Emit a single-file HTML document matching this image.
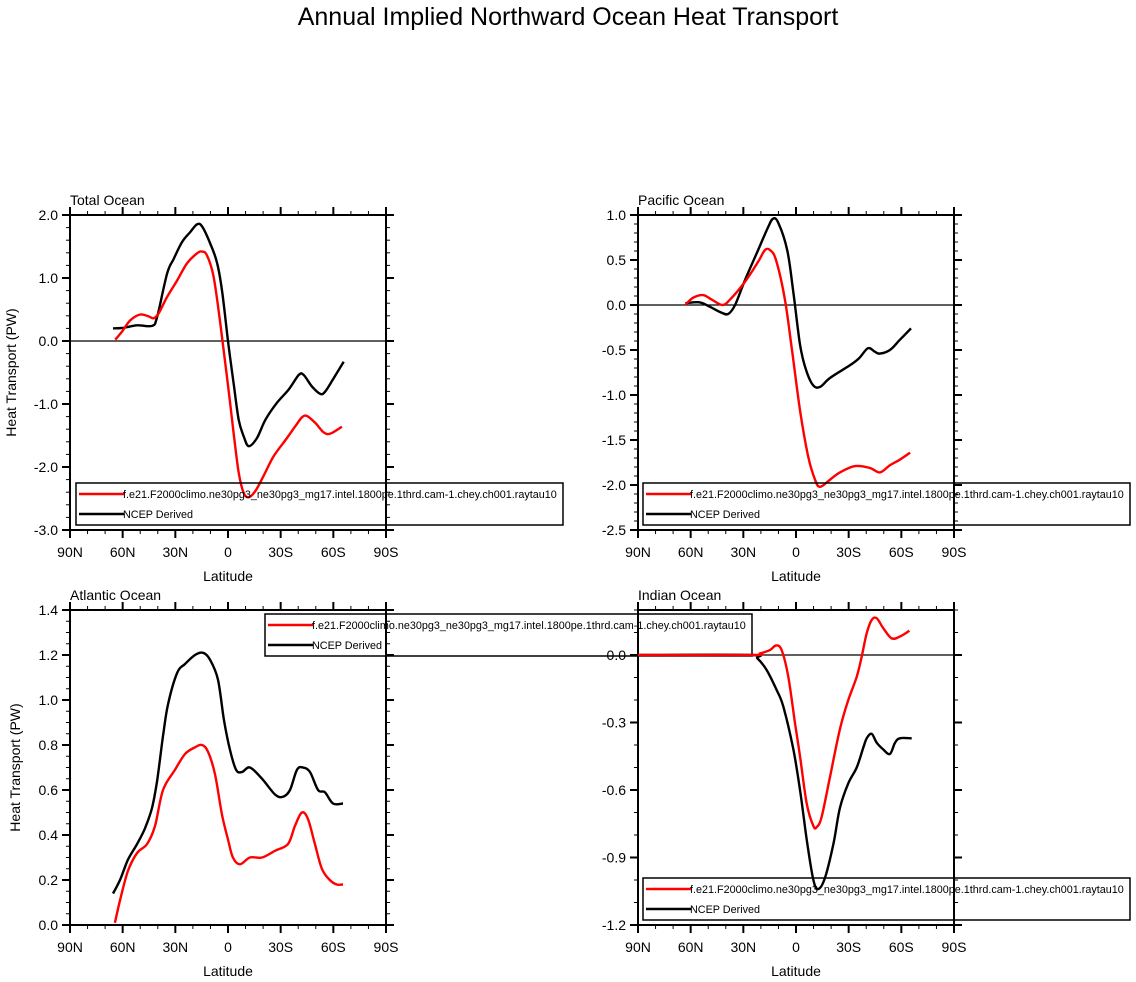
<!DOCTYPE html>
<html><head><meta charset="utf-8"><style>
body{margin:0;background:#fff;}
svg{display:block;font-family:"Liberation Sans",Arial,sans-serif;}
</style></head><body>
<svg id="chart" width="1136" height="982" viewBox="0 0 1136 982" xmlns="http://www.w3.org/2000/svg">
<text x="568" y="25" text-anchor="middle" font-size="25">Annual Implied Northward Ocean Heat Transport</text>
</svg>
<script>
// Latitude tick labels
const xTickLabels = ["90N","60N","30N","0","30S","60S","90S"];
const xTickValues = [90,60,30,0,-30,-60,-90];
const legendLabels = ["f.e21.F2000climo.ne30pg3_ne30pg3_mg17.intel.1800pe.1thrd.cam-1.chey.ch001.raytau10","NCEP Derived"];

// Total Ocean
const totalModelLat = [64.2,60.4,55.6,50,45.2,42.3,39.5,34.7,29,23.4,17.7,14.8,12,8.2,4.4,0.6,-3.2,-6.1,-8.9,-11.8,-15.6,-20.3,-26,-33.6,-38.4,-42.2,-45,-49.7,-54.5,-58.3,-64.9];
const totalModelVal = [0.02,0.15,0.33,0.42,0.39,0.36,0.44,0.7,0.96,1.23,1.39,1.42,1.36,1.02,0.28,-0.56,-1.46,-2.09,-2.41,-2.48,-2.38,-2.14,-1.83,-1.54,-1.35,-1.21,-1.19,-1.3,-1.45,-1.47,-1.36];
const totalObsLat = [65.5,59.4,51.8,43.3,40.4,34.7,31,26.2,21.5,17.7,14.8,10,6.3,3.4,0,-3.2,-6.1,-8.9,-11.8,-16.5,-21.3,-27.9,-34.6,-40.3,-43.1,-47.8,-52.6,-55.4,-60.2,-65.9];
const totalObsVal = [0.2,0.21,0.25,0.24,0.38,1.07,1.3,1.57,1.73,1.85,1.82,1.54,1.25,0.8,0,-0.67,-1.25,-1.51,-1.67,-1.54,-1.25,-0.98,-0.77,-0.54,-0.54,-0.72,-0.84,-0.8,-0.59,-0.33];
const totalYTicks = [2,1,0,-1,-2,-3];
const totalYLabels = ["2.0","1.0","0.0","-1.0","-2.0","-3.0"];

// Pacific Ocean
const pacModelLat = [63,58.7,53,48,42,37.6,29,21.6,17.7,14.8,11.4,6.3,2.3,-2.3,-6.8,-10.8,-13.7,-19.4,-25,-33.6,-42,-47.8,-53.5,-59,-65];
const pacModelVal = [0,0.08,0.11,0.06,0,0.06,0.26,0.48,0.61,0.61,0.5,0.06,-0.5,-1.17,-1.67,-1.94,-2.02,-1.94,-1.86,-1.79,-1.81,-1.86,-1.78,-1.72,-1.64];
const pacObsLat = [63,55,49,43,38.7,34.7,29,21.6,16,13,10,5,1.7,-2.3,-5.7,-9.7,-13.7,-19.4,-30.7,-36,-41,-45,-47.8,-53.5,-59,-65.5];
const pacObsVal = [0.02,0.03,-0.02,-0.08,-0.1,0,0.28,0.61,0.86,0.96,0.91,0.61,0.17,-0.44,-0.72,-0.89,-0.91,-0.81,-0.67,-0.59,-0.48,-0.52,-0.54,-0.5,-0.39,-0.26];
const pacYTicks = [1,0.5,0,-0.5,-1,-1.5,-2,-2.5];
const pacYLabels = ["1.0","0.5","0.0","-0.5","-1.0","-1.5","-2.0","-2.5"];

// Atlantic Ocean
const atlModelLat = [64.4,61.5,57,51.8,46.1,41.6,37,30.2,24.5,18.8,14.8,11.4,7.4,3.4,0,-2.8,-6.8,-12.5,-19.4,-26.8,-34.2,-38.1,-42.1,-45.6,-49.5,-53.5,-58,-62,-65.5];
const atlModelVal = [0.01,0.11,0.24,0.32,0.36,0.44,0.6,0.69,0.76,0.79,0.8,0.77,0.67,0.49,0.38,0.3,0.27,0.3,0.3,0.33,0.36,0.44,0.5,0.47,0.36,0.25,0.2,0.18,0.18];
const atlObsLat = [65.5,61.5,57,51.8,47.3,43.3,40.4,37,34.2,29,24.5,18.8,14.2,10.3,5.7,2.3,-1.1,-4.6,-8,-12.5,-19.4,-26.8,-31.3,-35.3,-39.3,-42.7,-46.7,-51.3,-55.2,-59.8,-65.5];
const atlObsVal = [0.14,0.2,0.29,0.36,0.43,0.52,0.64,0.84,0.98,1.12,1.16,1.2,1.21,1.18,1.09,0.91,0.78,0.69,0.68,0.7,0.65,0.58,0.57,0.6,0.69,0.7,0.68,0.6,0.59,0.54,0.54];
const atlYTicks = [1.4,1.2,1,0.8,0.6,0.4,0.2,0];
const atlYLabels = ["1.4","1.2","1.0","0.8","0.6","0.4","0.2","0.0"];

// Indian Ocean
const indModelLat = [90,25.3,20.5,14.8,11.4,8.2,4.4,0.6,-2.3,-6.1,-9.9,-11.8,-14.6,-19.4,-25,-29.8,-34.6,-37.4,-40.3,-43.1,-46,-49.7,-54.5,-59.2,-64.6];
const indModelVal = [0,0,0.007,0.022,0.042,0.022,-0.097,-0.3,-0.45,-0.66,-0.76,-0.765,-0.72,-0.54,-0.33,-0.2,-0.097,-0.007,0.097,0.156,0.163,0.119,0.074,0.082,0.108];
const indObsLat = [90,26,22,16.7,11,7.2,1.5,-2.3,-6.1,-9.9,-12.7,-16.5,-21.3,-25,-29.8,-34.6,-38.4,-40.3,-43.1,-46,-49.7,-53.5,-56.4,-59.2,-65.9];
const indObsVal = [0,0,-0.015,-0.067,-0.156,-0.23,-0.42,-0.6,-0.82,-1.0,-1.04,-0.99,-0.84,-0.68,-0.57,-0.5,-0.41,-0.37,-0.35,-0.39,-0.42,-0.44,-0.39,-0.37,-0.37];
const indYTicks = [0,-0.3,-0.6,-0.9,-1.2];
const indYLabels = ["0.0","-0.3","-0.6","-0.9","-1.2"];

const NS = "http://www.w3.org/2000/svg";
const svg = document.getElementById("chart");
function mk(tag, attrs, parent){
  const e = document.createElementNS(NS, tag);
  for (const k in attrs) e.setAttribute(k, attrs[k]);
  (parent||svg).appendChild(e);
  return e;
}
function smoothPath(pts){
  let d = "M" + pts[0][0].toFixed(1) + "," + pts[0][1].toFixed(1);
  for (let i=0;i<pts.length-1;i++){
    const p0 = pts[i-1]||pts[i], p1 = pts[i], p2 = pts[i+1], p3 = pts[i+2]||p2;
    const c1x = p1[0]+(p2[0]-p0[0])/6, c1y = p1[1]+(p2[1]-p0[1])/6;
    const c2x = p2[0]-(p3[0]-p1[0])/6, c2y = p2[1]-(p3[1]-p1[1])/6;
    d += " C"+c1x.toFixed(1)+","+c1y.toFixed(1)+" "+c2x.toFixed(1)+","+c2y.toFixed(1)+" "+p2[0].toFixed(1)+","+p2[1].toFixed(1);
  }
  return d;
}

function panel(cfg){
  const g = mk("g", {});
  
  
  const L=cfg.x0, R=cfg.x1, T=cfg.y0, B=cfg.y1;
  const xs = lat => L + (90-lat)/180*(R-L);
  const ys = v => T + (cfg.ymax - v)/(cfg.ymax - cfg.ymin)*(B-T);

  for (let lat=90; lat>=-90; lat-=10){
    const major = lat%30===0, len = major?8:4, x = xs(lat);
    mk("line",{x1:x,x2:x,y1:B,y2:B+len,stroke:"#000","stroke-width":major?2:1},g);
    mk("line",{x1:x,x2:x,y1:T,y2:T-len,stroke:"#000","stroke-width":major?2:1},g);
  }
  const nMin = Math.round((cfg.ymax-cfg.ymin)/cfg.minor);
  for (let i=0;i<=nMin;i++){
    const y = ys(cfg.ymin + i*cfg.minor);
    mk("line",{x1:L,x2:L-4,y1:y,y2:y,stroke:"#000","stroke-width":1},g);
    mk("line",{x1:R,x2:R+4,y1:y,y2:y,stroke:"#000","stroke-width":1},g);
  }
  cfg.yTicks.forEach((v,i)=>{
    const y = ys(v);
    mk("line",{x1:L,x2:L-8,y1:y,y2:y,stroke:"#000","stroke-width":2},g);
    mk("line",{x1:R,x2:R+8,y1:y,y2:y,stroke:"#000","stroke-width":2},g);
    const t = mk("text",{x:L-12,y:y+5,"text-anchor":"end","font-size":14},g);
    t.textContent = cfg.yLabels[i];
    
    
  });
  xTickValues.forEach((lat,i)=>{
    const t = mk("text",{x:xs(lat),y:B+27,"text-anchor":"middle","font-size":14},g);
    t.textContent = xTickLabels[i];
    
    
  });
  mk("line",{x1:L,x2:R,y1:ys(0),y2:ys(0),stroke:"#000","stroke-width":1.3},g);
  const fr = mk("rect",{x:L,y:T,width:R-L,height:B-T,fill:"none",stroke:"#000","stroke-width":2},g);
  
  
  const obs = mk("path",{d:smoothPath(cfg.obsLat.map((la,i)=>[xs(la),ys(cfg.obsVal[i])])),fill:"none",stroke:"#000","stroke-width":2.4,"stroke-linejoin":"round"},g);
  
  
  const mod = mk("path",{d:smoothPath(cfg.modLat.map((la,i)=>[xs(la),ys(cfg.modVal[i])])),fill:"none",stroke:"#ff0000","stroke-width":2.4,"stroke-linejoin":"round"},g);
  
  
  const pt = mk("text",{x:L,y:T-10,"font-size":14},g);
  pt.textContent = cfg.title;
  
  
  const xt = mk("text",{x:(L+R)/2,y:B+51,"text-anchor":"middle","font-size":14},g);
  xt.textContent = "Latitude";
  
  
  if (cfg.ytitle){
    const yt = mk("text",{x:0,y:0,"text-anchor":"middle","font-size":14,transform:"translate("+cfg.ytitleX+","+((T+B)/2)+") rotate(-90)"},g);
    yt.textContent = "Heat Transport (PW)";
    
    
  }
  const lg = mk("g",{},svg);
  
  
  const lx = cfg.legX, ly = cfg.legY;
  mk("rect",{x:lx,y:ly,width:487,height:42,fill:"none",stroke:"#000","stroke-width":1.5},lg);
  [["#ff0000",11],["#000",31]].forEach((c,i)=>{
    const ln = mk("line",{x1:lx+3,x2:lx+48,y1:ly+c[1],y2:ly+c[1],stroke:c[0],"stroke-width":2.4},lg);
    
    
    const t = mk("text",{x:lx+47,y:ly+c[1]+4,"font-size":10.8},lg);
    t.textContent = legendLabels[i];
    
    
  });
}

panel({name:"total-ocean-panel",title:"Total Ocean",x0:70,x1:386,y0:215,y1:530,ymax:2,ymin:-3,minor:0.2,yTicks:totalYTicks,yLabels:totalYLabels,modLat:totalModelLat,modVal:totalModelVal,obsLat:totalObsLat,obsVal:totalObsVal,ytitle:true,ytitleX:16,legX:76,legY:483});
panel({name:"pacific-ocean-panel",title:"Pacific Ocean",x0:638,x1:954,y0:215,y1:530,ymax:1,ymin:-2.5,minor:0.1,yTicks:pacYTicks,yLabels:pacYLabels,modLat:pacModelLat,modVal:pacModelVal,obsLat:pacObsLat,obsVal:pacObsVal,ytitle:false,legX:643,legY:483});
panel({name:"atlantic-ocean-panel",title:"Atlantic Ocean",x0:70,x1:386,y0:610,y1:925,ymax:1.4,ymin:0,minor:0.05,yTicks:atlYTicks,yLabels:atlYLabels,modLat:atlModelLat,modVal:atlModelVal,obsLat:atlObsLat,obsVal:atlObsVal,ytitle:true,ytitleX:20,legX:265,legY:614});
panel({name:"indian-ocean-panel",title:"Indian Ocean",x0:638,x1:954,y0:610,y1:925,ymax:0.2,ymin:-1.2,minor:0.1,yTicks:indYTicks,yLabels:indYLabels,modLat:indModelLat,modVal:indModelVal,obsLat:indObsLat,obsVal:indObsVal,ytitle:false,legX:643,legY:878});
</script>
</body></html>
